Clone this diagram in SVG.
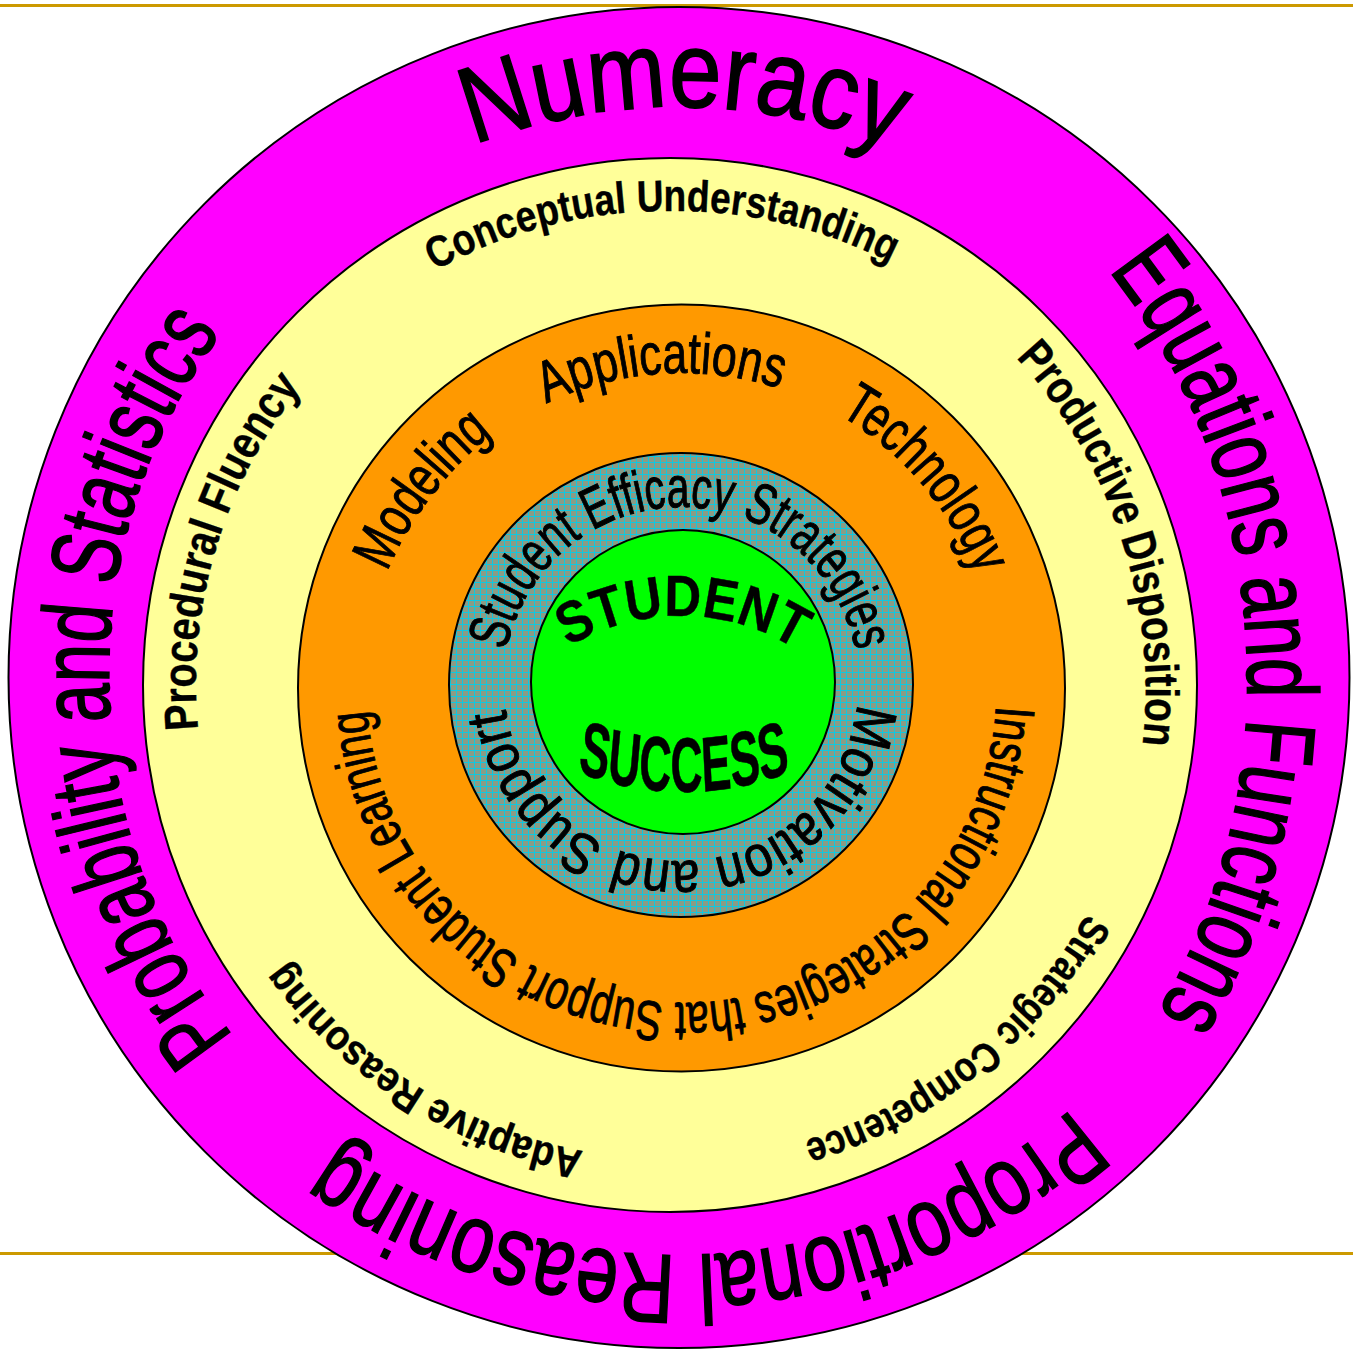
<svg xmlns="http://www.w3.org/2000/svg" width="1353" height="1355" viewBox="0 0 1353 1355">
<style>
.t{font-family:"Liberation Sans",Arial,sans-serif;fill:#000;stroke:#000;stroke-width:1}
.big{stroke-width:1.6}
.b{font-weight:bold;stroke-width:0.4}
.ring{stroke:#000;stroke-width:2}
</style>
<defs>
<pattern id="tex" width="6" height="6" patternUnits="userSpaceOnUse">
<rect width="6" height="6" fill="#8a9c86"/>
<path d="M0,0.5H6M0.5,0V6" stroke="#10c8e0" stroke-width="1"/>
</pattern>
<path id="pNum" d="M674,1247 A570,570 0 1 1 684,107 A570,570 0 1 1 674,1247"/>
<path id="pEq" d="M112.4,719.9 A568,615 0 1 1 1245.6,634.1 A568,615 0 1 1 112.4,719.9"/>
<path id="pProp" d="M648.12,99.79 A590,578 0 1 1 709.88,1254.21 A590,578 0 1 1 648.12,99.79"/>
<path id="pProb" d="M1248.9,667.1 A570,570 0 1 1 109.1,686.9 A570,570 0 1 1 1248.9,667.1"/>
<path id="pCon" d="M678.3,1158.9 A474,474 0 1 1 661.7,211.1 A474,474 0 1 1 678.3,1158.9"/>
<path id="pProd" d="M219.5,832.3 A474,474 0 1 1 1120.5,537.7 A474,474 0 1 1 219.5,832.3"/>
<path id="pStrat" d="M373,315.6 A474,474 0 1 1 967,1054.4 A474,474 0 1 1 373,315.6"/>
<path id="pAdap" d="M924,284.8 A474,474 0 1 1 416,1085.2 A474,474 0 1 1 924,284.8"/>
<path id="pProc" d="M1123.8,822 A474,474 0 1 1 216.2,548 A474,474 0 1 1 1123.8,822"/>
<path id="pApp" d="M701.3,1002.4 A315,315 0 1 1 661.7,373.6 A315,315 0 1 1 701.3,1002.4"/>
<path id="pTech" d="M442,892.6 A315,315 0 1 1 921,483.4 A315,315 0 1 1 442,892.6"/>
<path id="pMod" d="M931.7,879.3 A315,315 0 1 1 431.3,496.7 A315,315 0 1 1 931.7,879.3"/>
<path id="pIns" d="M679.3,373 A315,315 0 1 1 683.7,1003 A315,315 0 1 1 679.3,373"/>
<path id="pSES" d="M681,863 A178,178 0 1 1 681,507 A178,178 0 1 1 681,863"/>
<path id="pMot" d="M677.93,509.03 A176,176 0 1 1 684.07,860.97 A176,176 0 1 1 677.93,509.03"/>
<path id="pStu" d="M677.3,1052 A218,218 0 1 1 682.7,616 A218,218 0 1 1 677.3,1052"/>
<path id="pSuc" d="M539,-24.2 A447,447 0 0 0 829,-24.2"/>
</defs>

<g id="rules">
<line x1="0" y1="5.5" x2="1353" y2="5.5" stroke="#cc9900" stroke-width="3"/>
<line x1="0" y1="1253.5" x2="1353" y2="1253.5" stroke="#cc9900" stroke-width="3"/>
</g>

<g id="outer-ring">
<circle class="ring" cx="679" cy="677.5" r="670.5" fill="#ff00ff"/>
<text class="t big" font-size="108"><textPath href="#pNum" startOffset="50%" text-anchor="middle" textLength="430" lengthAdjust="spacingAndGlyphs">Numeracy</textPath></text>
<text class="t big" font-size="100"><textPath href="#pEq" startOffset="50%" text-anchor="middle" textLength="790" lengthAdjust="spacingAndGlyphs">Equations and Functions</textPath></text>
<text class="t big" font-size="98"><textPath href="#pProp" startOffset="50%" text-anchor="middle" textLength="795" lengthAdjust="spacingAndGlyphs">Proportional Reasoning</textPath></text>
<text class="t big" font-size="98"><textPath href="#pProb" startOffset="50%" text-anchor="middle" textLength="756" lengthAdjust="spacingAndGlyphs">Probability and Statistics</textPath></text>
</g>

<g id="yellow-ring">
<circle class="ring" cx="670" cy="685" r="527" fill="#ffff99"/>
<text class="t b" font-size="44"><textPath href="#pCon" startOffset="50%" text-anchor="middle" textLength="474" lengthAdjust="spacingAndGlyphs">Conceptual Understanding</textPath></text>
<text class="t b" font-size="47"><textPath href="#pProd" startOffset="50%" text-anchor="middle" textLength="420" lengthAdjust="spacingAndGlyphs">Productive Disposition</textPath></text>
<text class="t b" font-size="42"><textPath href="#pStrat" startOffset="50%" text-anchor="middle" textLength="372" lengthAdjust="spacingAndGlyphs">Strategic Competence</textPath></text>
<text class="t b" font-size="42"><textPath href="#pAdap" startOffset="50%" text-anchor="middle" textLength="362" lengthAdjust="spacingAndGlyphs">Adaptive Reasoning</textPath></text>
<text class="t b" font-size="47"><textPath href="#pProc" startOffset="50%" text-anchor="middle" textLength="367" lengthAdjust="spacingAndGlyphs">Procedural Fluency</textPath></text>
</g>

<g id="orange-ring">
<circle class="ring" cx="681.5" cy="688" r="383.5" fill="#ff9900"/>
<text class="t" font-size="58"><textPath href="#pApp" startOffset="50%" text-anchor="middle" textLength="240" lengthAdjust="spacingAndGlyphs">Applications</textPath></text>
<text class="t" font-size="58"><textPath href="#pTech" startOffset="50%" text-anchor="middle" textLength="215" lengthAdjust="spacingAndGlyphs">Technology</textPath></text>
<text class="t" font-size="58"><textPath href="#pMod" startOffset="50%" text-anchor="middle" textLength="175" lengthAdjust="spacingAndGlyphs">Modeling</textPath></text>
<text class="t" font-size="56"><textPath href="#pIns" startOffset="50%" text-anchor="middle" textLength="949" lengthAdjust="spacingAndGlyphs">Instructional Strategies that Support Student Learning</textPath></text>
</g>

<g id="teal-ring">
<circle class="ring" cx="681" cy="685" r="232" fill="url(#tex)"/>
<text class="t" font-size="58"><textPath href="#pSES" startOffset="50%" text-anchor="middle" textLength="490" lengthAdjust="spacingAndGlyphs">Student Efficacy Strategies</textPath></text>
<text class="t" font-size="58"><textPath href="#pMot" startOffset="50%" text-anchor="middle" textLength="512" lengthAdjust="spacingAndGlyphs">Motivation and Support</textPath></text>
</g>

<g id="center">
<circle class="ring" cx="683" cy="682" r="152" fill="#00ff00"/>
<text class="t b" font-size="58"><textPath href="#pStu" startOffset="50%" text-anchor="middle" textLength="240" lengthAdjust="spacingAndGlyphs">STUDENT</textPath></text>
<g transform="translate(0,792) scale(1,1.55)">
<text class="t b" font-size="50"><textPath href="#pSuc" startOffset="50%" text-anchor="middle" textLength="215" lengthAdjust="spacingAndGlyphs">SUCCESS</textPath></text>
</g>
</g>
</svg>
